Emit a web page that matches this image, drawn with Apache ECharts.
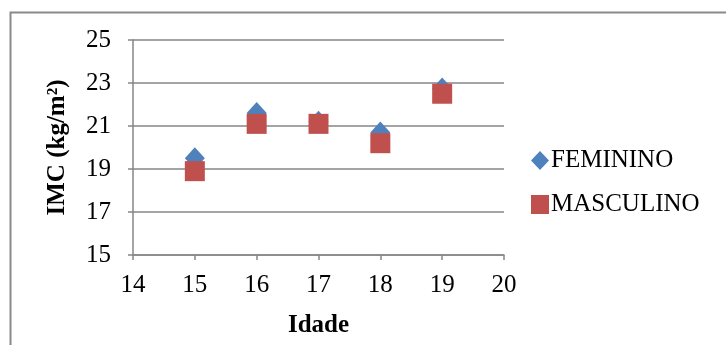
<!DOCTYPE html>
<html>
<head>
<meta charset="utf-8">
<script src="https://cdn.jsdelivr.net/npm/echarts@6/dist/echarts.min.js"></script>
<style>html,body{margin:0;padding:0;background:#fff}#c{width:726px;height:345px}</style>
</head>
<body>
<div id="c"></div>
<script>
var ages = [15, 16, 17, 18, 19];
var feminino = [19.5, 21.6, 21.2, 20.7, 22.75];
var masculino = [18.9, 21.1, 21.1, 20.2, 22.5];
var seriesNames = ['FEMININO', 'MASCULINO'];
var xTitle = 'Idade';
var yTitle = 'IMC (kg/m²)';

var chart = echarts.init(document.getElementById('c'));
var serif = '"Liberation Serif", "Times New Roman", serif';
var axisGrey = '#868686';
function pairs(xs, ys) { return xs.map(function (x, i) { return [x, ys[i]]; }); }
chart.setOption({
  animation: false,
  backgroundColor: '#fff',
  graphic: [{
    type: 'rect', left: 8, top: 10, shape: { width: 730, height: 345 },
    style: { fill: 'none', stroke: '#8a8a8a', lineWidth: 2 }, silent: true
  }],
  grid: { left: 133, right: 222, top: 40, bottom: 90, containLabel: false },
  legend: {
    orient: 'vertical', left: 526, top: 143, itemGap: 19,
    itemWidth: 18, itemHeight: 19,
    textStyle: { fontFamily: serif, fontSize: 25, color: '#000', padding: [0, 0, 0, -3] },
    data: [{ name: seriesNames[0], icon: 'diamond' }, { name: seriesNames[1], icon: 'rect' }]
  },
  xAxis: {
    type: 'value', min: 14, max: 20, interval: 1,
    name: xTitle, nameLocation: 'middle', nameGap: 58,
    nameTextStyle: { fontFamily: serif, fontSize: 25, fontWeight: 'bold', color: '#000' },
    axisLine: { show: true, lineStyle: { color: axisGrey, width: 1.5 } },
    axisTick: { show: true, length: 5, inside: false, lineStyle: { color: axisGrey, width: 1.5 } },
    axisLabel: { fontFamily: serif, fontSize: 25, color: '#000', margin: 18 },
    splitLine: { show: false }
  },
  yAxis: {
    type: 'value', min: 15, max: 25, interval: 2,
    name: yTitle, nameLocation: 'middle', nameGap: 63, nameRotate: 90,
    nameTextStyle: { fontFamily: serif, fontSize: 25, fontWeight: 'bold', color: '#000' },
    axisLine: { show: true, lineStyle: { color: axisGrey, width: 1.5 } },
    axisTick: { show: true, length: 5, lineStyle: { color: axisGrey, width: 1.5 } },
    axisLabel: { fontFamily: serif, fontSize: 25, color: '#000', margin: 22 },
    splitLine: { show: true, lineStyle: { color: axisGrey, width: 1.5 } }
  },
  series: [
    { name: seriesNames[0], type: 'scatter', symbol: 'diamond', symbolSize: [20, 22],
      itemStyle: { color: '#4F81BD', opacity: 1 }, data: pairs(ages, feminino), z: 2 },
    { name: seriesNames[1], type: 'scatter', symbol: 'rect', symbolSize: 20,
      itemStyle: { color: '#C0504D', opacity: 1 }, data: pairs(ages, masculino), z: 3 }
  ]
});
</script>
</body>
</html>
